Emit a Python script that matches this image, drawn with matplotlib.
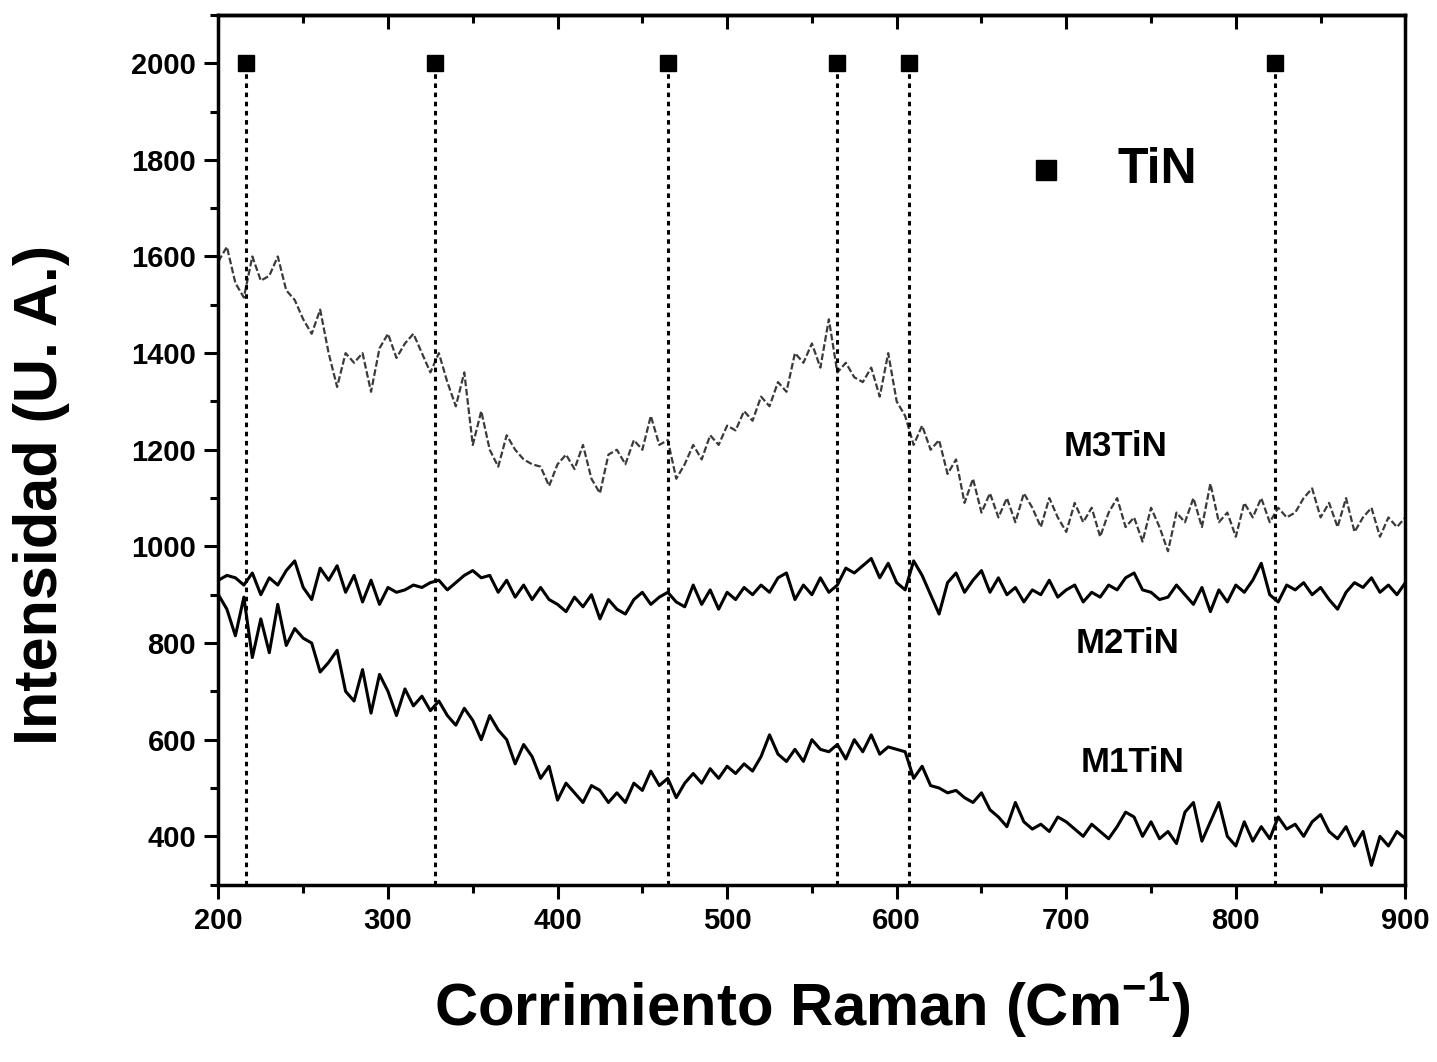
import numpy as np
import matplotlib
matplotlib.use('Agg')
import matplotlib.pyplot as plt
from matplotlib.ticker import MultipleLocator

plt.rcParams['font.family'] = ['Liberation Sans', 'DejaVu Sans']
plt.rcParams['font.weight'] = 'bold'
plt.rcParams['mathtext.fontset'] = 'custom'
plt.rcParams['mathtext.rm'] = 'Liberation Sans:bold'
plt.rcParams['mathtext.bf'] = 'Liberation Sans:bold'

# Raman shift grid (cm-1), one reading every 5 cm-1
shift = np.arange(200, 905, 5)

m3_tin = [
    1590, 1620, 1545, 1515, 1600, 1550, 1560, 1600, 1530, 1510,
    1470, 1440, 1490, 1400, 1330, 1400, 1380, 1400, 1320, 1410,
    1440, 1390, 1420, 1440, 1400, 1360, 1400, 1340, 1290, 1360,
    1210, 1280, 1200, 1165, 1230, 1200, 1180, 1170, 1165, 1125,
    1170, 1190, 1160, 1210, 1140, 1110, 1190, 1200, 1170, 1220,
    1200, 1270, 1210, 1220, 1140, 1170, 1210, 1180, 1230, 1210,
    1250, 1240, 1280, 1260, 1310, 1290, 1340, 1320, 1400, 1380,
    1420, 1370, 1470, 1360, 1380, 1350, 1340, 1370, 1310, 1400,
    1300, 1270, 1210, 1250, 1200, 1220, 1150, 1180, 1090, 1140,
    1070, 1110, 1060, 1100, 1050, 1110, 1080, 1040, 1100, 1060,
    1030, 1090, 1050, 1080, 1020, 1070, 1100, 1040, 1060, 1010,
    1080, 1040, 990, 1070, 1050, 1100, 1040, 1130, 1050, 1070,
    1020, 1090, 1060, 1100, 1050, 1080, 1060, 1070, 1100, 1120,
    1060, 1090, 1040, 1100, 1030, 1060, 1080, 1020, 1060, 1040,
    1060,
]

m2_tin = [
    930, 940, 935, 920, 945, 900, 935, 920, 950, 970,
    915, 890, 955, 930, 960, 905, 940, 885, 930, 880,
    915, 905, 910, 920, 915, 925, 930, 910, 925, 940,
    950, 935, 940, 905, 930, 895, 920, 890, 915, 890,
    880, 865, 895, 875, 900, 850, 890, 870, 860, 890,
    905, 880, 895, 905, 885, 875, 920, 880, 910, 870,
    905, 890, 915, 900, 920, 905, 935, 945, 890, 920,
    900, 935, 905, 920, 955, 945, 960, 975, 935, 965,
    925, 910, 970, 940, 900, 860, 925, 945, 905, 930,
    950, 905, 935, 900, 915, 885, 910, 900, 930, 895,
    910, 920, 885, 905, 895, 920, 910, 935, 945, 910,
    905, 890, 895, 920, 900, 880, 915, 865, 910, 885,
    920, 905, 930, 965, 900, 885, 920, 910, 925, 900,
    915, 890, 870, 905, 925, 915, 935, 905, 920, 900,
    925,
]

m1_tin = [
    900, 870, 815, 895, 770, 850, 780, 880, 795, 830,
    810, 800, 740, 760, 785, 700, 680, 745, 655, 735,
    700, 650, 705, 670, 690, 660, 680, 650, 630, 665,
    640, 600, 650, 620, 600, 550, 590, 565, 520, 545,
    475, 510, 490, 470, 505, 495, 470, 490, 470, 510,
    495, 535, 505, 520, 480, 510, 530, 510, 540, 520,
    545, 530, 550, 535, 565, 610, 570, 555, 580, 555,
    600, 580, 575, 590, 560, 600, 575, 610, 570, 585,
    580, 575, 520, 545, 505, 500, 490, 495, 480, 470,
    490, 455, 440, 420, 470, 430, 415, 425, 410, 440,
    430, 415, 400, 425, 410, 395, 420, 450, 440, 400,
    430, 395, 410, 385, 450, 470, 390, 430, 470, 400,
    380, 430, 390, 420, 395, 440, 415, 425, 400, 430,
    445, 410, 395, 420, 380, 410, 340, 400, 380, 410,
    395,
]

# TiN reference band positions (cm-1)
tin_peaks = [216, 328, 465, 565, 607, 823]
marker_level = 2000

fig = plt.figure(figsize=(14.37, 10.62), dpi=100)
ax = fig.add_axes([0.152, 0.167, 0.826, 0.819])

ax.plot(shift, m3_tin, color='#3a3a3a', lw=1.6, linestyle=(0, (3, 1.2)))
ax.plot(shift, m2_tin, color='black', lw=2.2)
ax.plot(shift, m1_tin, color='black', lw=2.2)

ax.vlines(tin_peaks, 300, marker_level, colors='black', linestyles=(0, (1.5, 1.5)), lw=2.2)
ax.plot(tin_peaks, [marker_level] * len(tin_peaks), 's', color='black', ms=12)

# legend entry for the TiN markers
ax.plot([688], [1778], 's', color='black', ms=14)
ax.text(730, 1778, 'TiN', fontsize=36, fontweight='bold', va='center', ha='left')

ax.text(729, 1207, 'M3TiN', fontsize=25, fontweight='bold', ha='center', va='center')
ax.text(736, 799, 'M2TiN', fontsize=25, fontweight='bold', ha='center', va='center')
ax.text(739, 552, 'M1TiN', fontsize=25, fontweight='bold', ha='center', va='center')

ax.set_xlim(200, 900)
ax.set_ylim(300, 2100)
ax.xaxis.set_major_locator(MultipleLocator(100))
ax.xaxis.set_minor_locator(MultipleLocator(50))
ax.yaxis.set_minor_locator(MultipleLocator(100))
ax.set_yticks(np.arange(400, 2001, 200))

ax.tick_params(which='both', direction='out', width=2.2, labelsize=21, pad=6)
ax.tick_params(which='major', length=10)
ax.tick_params(which='minor', length=6)
for lbl in ax.get_xticklabels() + ax.get_yticklabels():
    lbl.set_fontweight('bold')
for sp in ax.spines.values():
    sp.set_linewidth(2.5)

# inward ticks along the top edge
top = ax.secondary_xaxis('top')
top.xaxis.set_major_locator(MultipleLocator(100))
top.xaxis.set_minor_locator(MultipleLocator(50))
top.tick_params(which='both', direction='in', width=2.2, labeltop=False)
top.tick_params(which='major', length=10)
top.tick_params(which='minor', length=6)
top.spines['top'].set_linewidth(2.5)

ax.set_xlabel(r'Corrimiento Raman (Cm$^{\mathbf{-1}}$)', fontsize=43, fontweight='bold')
ax.xaxis.set_label_coords(0.5, -0.1)
ax.set_ylabel('Intensidad (U. A.)', fontsize=44, fontweight='bold')
ax.yaxis.set_label_coords(-0.125, 0.448)

fig.savefig('out.png', dpi=100)
